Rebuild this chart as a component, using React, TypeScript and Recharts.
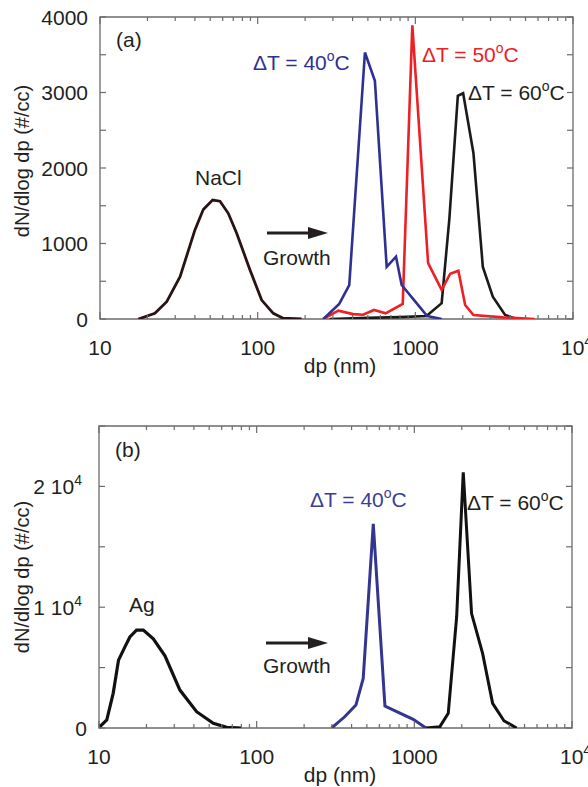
import { LineChart, Line, XAxis, YAxis, ReferenceArea } from 'recharts';

// panel (a): NaCl seed and grown droplets
const naclDp = [17.5, 22.3, 26.5, 32.2, 40, 45.2, 51.8, 57.7, 65.1, 73.6, 89.4, 106, 125.6, 145, 190];
const naclN = [0, 75, 230, 560, 1180, 1450, 1575, 1560, 1400, 1135, 650, 250, 75, 10, 0];

const a40Dp = [261, 329, 381, 479, 554, 658, 754, 819, 1000, 1189, 1469];
const a40N = [0, 200, 450, 3530, 3155, 690, 825, 450, 230, 40, 0];

const a50Dp = [260, 325, 403, 466, 547, 648, 832, 957, 1205, 1469, 1664, 1875, 2070, 2337, 3610, 5700];
const a50N = [0, 110, 65, 57, 120, 75, 200, 3890, 740, 385, 600, 640, 185, 53, 22, 0];

const a60Dp = [286, 500, 800, 1177, 1469, 1645, 1860, 2010, 2337, 2680, 3100, 3710, 4390];
const a60N = [0, 15, 25, 40, 210, 1335, 2955, 2990, 2195, 690, 295, 53, 0];

// panel (b): Ag seed and grown droplets
const agDp = [10.1, 11.2, 12.3, 13.3, 14.6, 15.7, 17.3, 19.1, 22.1, 26.2, 32.6, 41.6, 53.1, 64.5, 80.3];
const agN = [100, 660, 2870, 5620, 6720, 7540, 8100, 8100, 7380, 5970, 3140, 1350, 390, 60, 0];

const b40Dp = [299, 363, 426, 474, 549, 651, 773, 984, 1185];
const b40N = [0, 950, 1900, 4100, 16900, 1820, 1350, 720, 0];

const b60Dp = [1185, 1453, 1641, 1855, 2043, 2307, 2710, 3137, 3700, 4453];
const b60N = [0, 110, 1210, 9190, 21170, 9470, 6170, 2040, 600, 0];

const xMajor = [10, 100, 1000, 10000];
const xMinor = [20, 30, 40, 50, 60, 70, 80, 90, 200, 300, 400, 500, 600, 700, 800, 900, 2000, 3000, 4000, 5000, 6000, 7000, 8000, 9000];
const xTicks = [...xMajor, ...xMinor];

const yTicksA = [0, 500, 1000, 1500, 2000, 2500, 3000, 3500, 4000];
const yLabelsA = [0, 1000, 2000, 3000, 4000];
const yTicksB = [0, 5000, 10000, 15000, 20000, 25000];
const yLabelsB = [0, 10000, 20000];

const pts = (dp: number[], n: number[]) => dp.map((d, i) => ({ dp: d, n: n[i] }));

const FONT = 'Liberation Sans, Arial, Helvetica, sans-serif';
const FRAME = '#6b6b6b';
const INK = '#231f20';

type Box = { top: number; bottom: number; left: number; right: number; labelY: number };

const makeXTick = (box: Box) => (props: any) => {
  const { x, payload } = props;
  const v = payload.value;
  const major = xMajor.includes(v);
  const len = major ? 7 : 4;
  let label = null;
  if (major) {
    label = v === 10000 ? (
      <text x={x - 12} y={box.labelY} fontSize={21} fontFamily={FONT} fill={INK}>
        10<tspan fontSize={14} dy={-9}>4</tspan>
      </text>
    ) : (
      <text x={x} y={box.labelY} textAnchor="middle" fontSize={21} fontFamily={FONT} fill={INK}>
        {v}
      </text>
    );
  }
  return (
    <g>
      <line x1={x} x2={x} y1={box.bottom} y2={box.bottom - len} stroke={FRAME} strokeWidth={1.2} />
      <line x1={x} x2={x} y1={box.top} y2={box.top + len} stroke={FRAME} strokeWidth={1.2} />
      {label}
    </g>
  );
};

const makeYTick = (box: Box, labels: number[], sci: boolean) => (props: any) => {
  const { y, payload } = props;
  const v = payload.value;
  const len = 6;
  let label = null;
  if (labels.includes(v)) {
    if (sci && v !== 0) {
      label = (
        <text x={box.left - 17} y={y + 7.5} textAnchor="end" fontSize={21} fontFamily={FONT} fill={INK}>
          {v / 10000} 10<tspan fontSize={14} dy={-9}>4</tspan>
        </text>
      );
    } else {
      label = (
        <text x={box.left - 12} y={y + 7.5} textAnchor="end" fontSize={21} fontFamily={FONT} fill={INK}>
          {v}
        </text>
      );
    }
  }
  return (
    <g>
      <line x1={box.left} x2={box.left + len} y1={y} y2={y} stroke={FRAME} strokeWidth={1.2} />
      <line x1={box.right} x2={box.right - len} y1={y} y2={y} stroke={FRAME} strokeWidth={1.2} />
      {label}
    </g>
  );
};

const boxA: Box = { top: 17, bottom: 319, left: 100, right: 573, labelY: 355 };
const boxB: Box = { top: 31, bottom: 333, left: 99, right: 572, labelY: 369 };

const DT = ({ x, y, t, color }: { x: number; y: number; t: string; color: string }) => (
  <text x={x} y={y} fontSize={21} fontFamily={FONT} fill={color}>
    ΔT = {t}
    <tspan fontSize={14} dy={-9}>o</tspan>
    <tspan dy={9}>C</tspan>
  </text>
);

const Arrow = ({ x1, x2, y }: { x1: number; x2: number; y: number }) => (
  <g>
    <line x1={x1} x2={x2 - 16} y1={y} y2={y} stroke={INK} strokeWidth={3} />
    <polygon points={`${x2 - 20},${y - 6} ${x2},${y} ${x2 - 20},${y + 6}`} fill={INK} />
  </g>
);

export default function App() {
  return (
    <div style={{ position: 'absolute', left: 0, top: 0, width: 588, height: 787, background: '#fff' }}>
      <div style={{ position: 'absolute', left: 0, top: 0 }}>
        <LineChart width={588} height={395} margin={{ top: 17, right: 15, bottom: 36, left: 0 }}>
          <XAxis type="number" dataKey="dp" scale="log" domain={[10, 10000]} allowDataOverflow ticks={xTicks}
            interval={0} axisLine={false} tickLine={false} height={40} tick={makeXTick(boxA)} />
          <YAxis type="number" domain={[0, 4000]} allowDataOverflow ticks={yTicksA} interval={0}
            axisLine={false} tickLine={false} width={100} tick={makeYTick(boxA, yLabelsA, false)} />
          <ReferenceArea x1={10} x2={10000} y1={0} y2={4000} fill="none" stroke={FRAME} strokeWidth={1.3} fillOpacity={0} />
          <Line data={pts(naclDp, naclN)} dataKey="n" type="linear" stroke="#2b1214" strokeWidth={2.8} dot={false} isAnimationActive={false} />
          <Line data={pts(a60Dp, a60N)} dataKey="n" type="linear" stroke="#1a1a1a" strokeWidth={2.6} dot={false} isAnimationActive={false} />
          <Line data={pts(a50Dp, a50N)} dataKey="n" type="linear" stroke="#ed2024" strokeWidth={2.6} dot={false} isAnimationActive={false} />
          <Line data={pts(a40Dp, a40N)} dataKey="n" type="linear" stroke="#2e3192" strokeWidth={2.6} dot={false} isAnimationActive={false} />
        </LineChart>
      </div>
      <div style={{ position: 'absolute', left: 0, top: 395 }}>
        <LineChart width={588} height={392} margin={{ top: 31, right: 16, bottom: 19, left: 0 }}>
          <XAxis type="number" dataKey="dp" scale="log" domain={[10, 10000]} allowDataOverflow ticks={xTicks}
            interval={0} axisLine={false} tickLine={false} height={40} tick={makeXTick(boxB)} />
          <YAxis type="number" domain={[0, 25000]} allowDataOverflow ticks={yTicksB} interval={0}
            axisLine={false} tickLine={false} width={99} tick={makeYTick(boxB, yLabelsB, true)} />
          <ReferenceArea x1={10} x2={10000} y1={0} y2={25000} fill="none" stroke={FRAME} strokeWidth={1.3} fillOpacity={0} />
          <Line data={pts(agDp, agN)} dataKey="n" type="linear" stroke="#111" strokeWidth={3.2} dot={false} isAnimationActive={false} />
          <Line data={pts(b60Dp, b60N)} dataKey="n" type="linear" stroke="#111" strokeWidth={3} dot={false} isAnimationActive={false} />
          <Line data={pts(b40Dp, b40N)} dataKey="n" type="linear" stroke="#34358f" strokeWidth={3} dot={false} isAnimationActive={false} />
        </LineChart>
      </div>
      <svg width={588} height={787} style={{ position: 'absolute', left: 0, top: 0, pointerEvents: 'none' }}>
        {/* axis titles */}
        <text x={29} y={161} transform="rotate(-90 29 161)" textAnchor="middle" fontSize={20} fontFamily={FONT} fill={INK}>dN/dlog dp (#/cc)</text>
        <text x={29} y={577} transform="rotate(-90 29 577)" textAnchor="middle" fontSize={20} fontFamily={FONT} fill={INK}>dN/dlog dp (#/cc)</text>
        <text x={340} y={373} textAnchor="middle" fontSize={21} fontFamily={FONT} fill={INK}>dp (nm)</text>
        <text x={340} y={782} textAnchor="middle" fontSize={21} fontFamily={FONT} fill={INK}>dp (nm)</text>

        {/* panel (a) annotations */}
        <text x={116} y={47} fontSize={21} fontFamily={FONT} fill={INK}>(a)</text>
        <text x={195} y={185} fontSize={21} fontFamily={FONT} fill={INK}>NaCl</text>
        <Arrow x1={267} x2={328} y={233} />
        <text x={263} y={265} fontSize={21} fontFamily={FONT} fill={INK}>Growth</text>
        <DT x={253} y={70} t="40" color="#2e3192" />
        <DT x={422} y={62} t="50" color="#ed2024" />
        <DT x={468} y={100} t="60" color={INK} />

        {/* panel (b) annotations */}
        <text x={115} y={457} fontSize={21} fontFamily={FONT} fill={INK}>(b)</text>
        <text x={129} y={612} fontSize={21} fontFamily={FONT} fill={INK}>Ag</text>
        <Arrow x1={266} x2={328} y={643} />
        <text x={263} y={673} fontSize={21} fontFamily={FONT} fill={INK}>Growth</text>
        <DT x={310} y={507} t="40" color="#3c3d96" />
        <DT x={467} y={510} t="60" color={INK} />
      </svg>
    </div>
  );
}
